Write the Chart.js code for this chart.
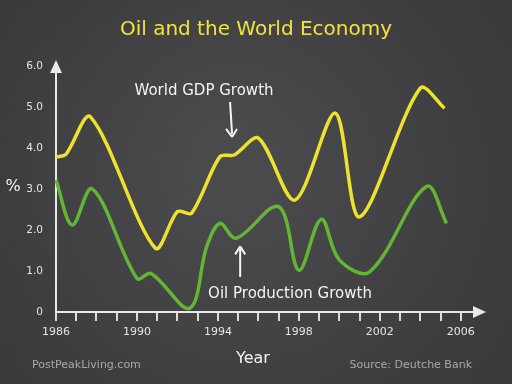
<!DOCTYPE html>
<html>
<head>
<meta charset="utf-8">
<script src="https://cdn.jsdelivr.net/npm/chart.js@4"></script>
<style>
  html, body { margin: 0; padding: 0; background: #3e3e41; }
</style>
</head>
<body>
<canvas id="oilChart" width="512" height="384"></canvas>
<script>
// values (x in fractional years, y in %)
const gdpYears = [1986, 1986.5, 1987.7, 1990.9, 1992.0, 1992.7, 1994.1, 1994.8, 1996.0, 1997.8, 1999.8, 2001.0, 2004.0, 2005.2];
const gdpValues = [3.78, 3.85, 4.76, 1.56, 2.45, 2.41, 3.79, 3.83, 4.24, 2.73, 4.85, 2.32, 5.46, 4.97];

const oilYears = [1986, 1986.8, 1987.8, 1990.0, 1990.7, 1992.6, 1993.45, 1994.1, 1994.9, 1997.0, 1998.0, 1999.1, 2000.0, 2001.5, 2004.3, 2005.3];
const oilValues = [3.22, 2.12, 3.0, 0.82, 0.94, 0.09, 1.6, 2.16, 1.80, 2.57, 1.02, 2.26, 1.27, 0.98, 3.06, 2.16];

const yearLabels = [1986, 1990, 1994, 1998, 2002, 2006];

const chalk = '#e8e8e8';
const font = 'DejaVu Sans';

// chalkboard background, titles, arrows
const boardPlugin = {
    id: 'board',
    beforeDraw(chart) {
        const c = chart.ctx;
        const g = c.createRadialGradient(230, 170, 40, 256, 192, 360);
        g.addColorStop(0, '#4a4a4d');
        g.addColorStop(1, '#363638');
        c.save();
        c.fillStyle = g;
        c.fillRect(0, 0, chart.width, chart.height);
        c.restore();
    },
    afterDraw(chart) {
        const c = chart.ctx;
        const area = chart.chartArea;
        const xs = chart.scales.x;
        const ys = chart.scales.y;
        c.save();

        // axis arrow heads
        c.fillStyle = chalk;
        c.beginPath();
        c.moveTo(area.left, area.top - 6);
        c.lineTo(area.left - 6, area.top + 7);
        c.lineTo(area.left + 6, area.top + 7);
        c.closePath();
        c.fill();
        c.beginPath();
        c.moveTo(area.right + 5, area.bottom);
        c.lineTo(area.right - 8, area.bottom - 6);
        c.lineTo(area.right - 8, area.bottom + 6);
        c.closePath();
        c.fill();

        // title
        c.textAlign = 'center';
        c.textBaseline = 'middle';
        c.fillStyle = '#f2e43a';
        c.font = '20px "' + font + '"';
        c.fillText('Oil and the World Economy', 256, 30);

        // axis titles
        c.fillStyle = '#f4f4f4';
        c.font = '16px "' + font + '"';
        c.fillText('%', 13, 187);
        c.fillText('Year', 253, 359);

        // footers
        c.font = '11px "' + font + '"';
        c.fillStyle = '#a9a9ab';
        c.textAlign = 'left';
        c.fillText('PostPeakLiving.com', 32, 365);
        c.textAlign = 'right';
        c.fillText('Source: Deutche Bank', 472, 365);

        // series annotations
        c.textAlign = 'center';
        c.fillStyle = '#f4f4f4';
        c.font = '15px "' + font + '"';
        c.fillText('World GDP Growth', 204, 91);
        c.fillText('Oil Production Growth', 290, 294);

        // arrows
        c.strokeStyle = '#f4f4f4';
        c.lineWidth = 2;
        const ax = xs.getPixelForValue(1994.65);
        const aTop = 102, aTip = ys.getPixelForValue(4.27);
        c.beginPath();
        c.moveTo(ax - 1, aTop);
        c.lineTo(ax + 1, aTip - 3);
        c.stroke();
        c.beginPath();
        c.moveTo(ax + 1, aTip);
        c.lineTo(ax - 5, aTip - 8);
        c.moveTo(ax + 1, aTip);
        c.lineTo(ax + 6, aTip - 8);
        c.stroke();

        const bx = xs.getPixelForValue(1995.1);
        const bTip = ys.getPixelForValue(1.6), bBot = 277;
        c.beginPath();
        c.moveTo(bx, bBot);
        c.lineTo(bx, bTip + 2);
        c.stroke();
        c.beginPath();
        c.moveTo(bx, bTip);
        c.lineTo(bx - 5, bTip + 8);
        c.moveTo(bx, bTip);
        c.lineTo(bx + 5, bTip + 8);
        c.stroke();

        c.restore();
    }
};

new Chart(document.getElementById('oilChart'), {
    type: 'line',
    data: {
        datasets: [{
            label: 'World GDP Growth',
            data: gdpYears.map((y, i) => ({ x: y, y: gdpValues[i] })),
            borderColor: '#eee22c',
            borderWidth: 3.5,
            pointRadius: 0,
            tension: 0.3,
            clip: false
        }, {
            label: 'Oil Production Growth',
            data: oilYears.map((y, i) => ({ x: y, y: oilValues[i] })),
            borderColor: '#62b634',
            borderWidth: 3.5,
            pointRadius: 0,
            tension: 0.35,
            clip: false
        }]
    },
    options: {
        responsive: false,
        animation: false,
        layout: {
            padding: { top: 66, right: 31, left: 0, bottom: 0 }
        },
        plugins: {
            legend: { display: false },
            tooltip: { enabled: false }
        },
        scales: {
            x: {
                type: 'linear',
                min: 1986,
                max: 2007,
                afterFit: s => { s.height = 72; },
                ticks: {
                    stepSize: 1,
                    autoSkip: false,
                    maxRotation: 0,
                    padding: 5,
                    color: '#e4e4e4',
                    font: { family: font, size: 11 },
                    callback: v => yearLabels.includes(v) ? String(v) : ''
                },
                grid: {
                    drawOnChartArea: false,
                    tickLength: 9,
                    lineWidth: 2,
                    color: ctx => ctx.tick && ctx.tick.value <= 2006 ? '#dcdcdc' : 'rgba(0,0,0,0)'
                },
                border: { color: chalk, width: 2 }
            },
            y: {
                min: 0,
                max: 6,
                afterFit: s => { s.width = 56; },
                ticks: {
                    stepSize: 1,
                    padding: 5,
                    color: '#e4e4e4',
                    font: { family: font, size: 10.5 },
                    callback: v => v === 0 ? '0' : v.toFixed(1)
                },
                grid: { display: false },
                border: { color: chalk, width: 2 }
            }
        }
    },
    plugins: [boardPlugin]
});
</script>
</body>
</html>
